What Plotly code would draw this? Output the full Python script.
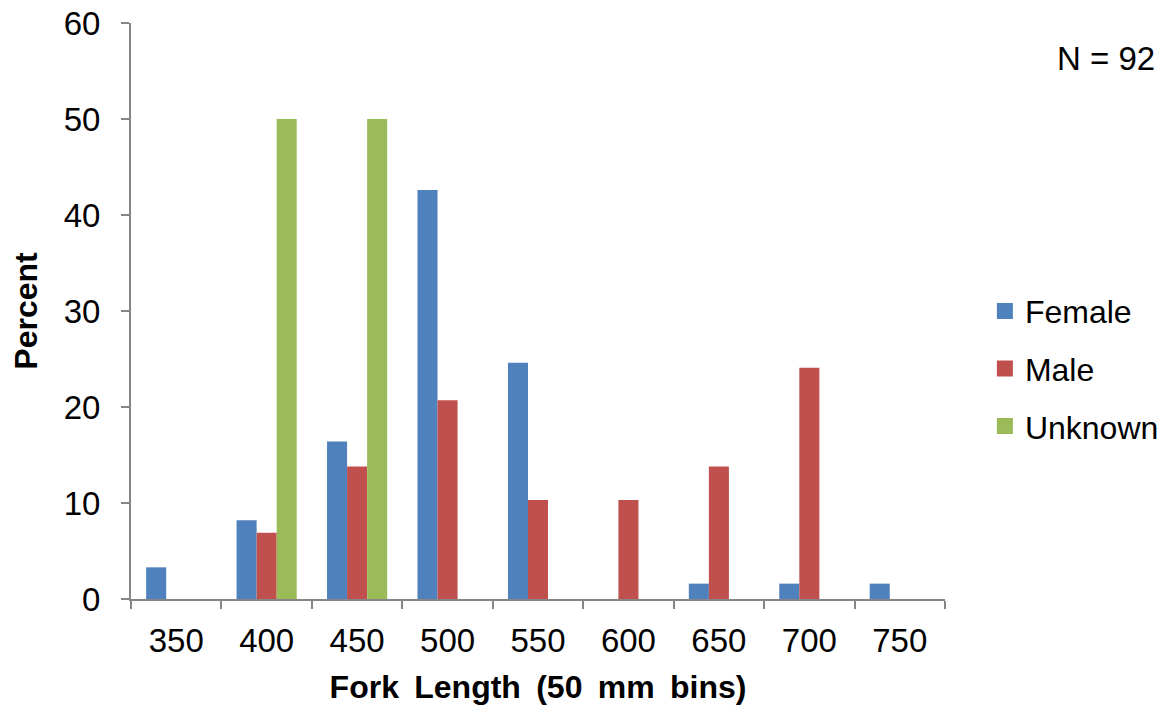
import plotly.graph_objects as go

categories = ["350", "400", "450", "500", "550", "600", "650", "700", "750"]
female = [3.3, 8.2, 16.4, 42.6, 24.6, 0, 1.6, 1.6, 1.6]
male = [0, 6.9, 13.8, 20.7, 10.3, 10.3, 13.8, 24.1, 0]
unknown = [0, 50, 50, 0, 0, 0, 0, 0, 0]

series = [("Female", female, "#4F81BD"), ("Male", male, "#C0504D"), ("Unknown", unknown, "#9BBB59")]

FONT = "Liberation Sans, Arial, sans-serif"
AXIS_COLOR = "#868686"
FS = 33

fig = go.Figure()
for name, vals, color in series:
    fig.add_trace(go.Bar(
        x=categories, y=vals, name=name, legendgroup=name, showlegend=False,
        marker=dict(color=color, line=dict(width=0)),
    ))
# legend entries with larger square swatches
for name, vals, color in series:
    fig.add_trace(go.Scatter(
        x=[None], y=[None], mode="markers", name=name, legendgroup=name,
        marker=dict(symbol="square", size=20, color=color),
    ))

fig.update_layout(
    width=1168, height=712,
    margin=dict(l=123, r=231, t=15, b=121, autoexpand=False),
    paper_bgcolor="white", plot_bgcolor="white",
    barmode="group", bargap=0.335, bargroupgap=0,
    font=dict(family=FONT, size=FS, color="black"),
    showlegend=True,
    legend=dict(
        x=1.049, y=0.40, xanchor="left", yanchor="middle",
        font=dict(family=FONT, size=32, color="black"),
        traceorder="grouped", tracegroupgap=13, itemsizing="trace",
        bgcolor="rgba(0,0,0,0)",
    ),
    annotations=[dict(
        text="N = 92", xref="paper", yref="paper",
        x=1.260, y=0.938, xanchor="right", yanchor="middle",
        showarrow=False, font=dict(family=FONT, size=FS, color="black"),
    )],
)

fig.update_xaxes(
    type="category", automargin=False,
    showline=True, linecolor=AXIS_COLOR, linewidth=2,
    ticks="outside", tickson="boundaries", ticklen=8, tickwidth=2, tickcolor=AXIS_COLOR,
    showgrid=False, zeroline=False,
    tickfont=dict(family=FONT, size=FS, color="black"),
    ticklabelstandoff=11, ticklabeloverflow="allow",
    title=dict(text="<b>Fork \u2009Length \u2009(50 \u2009mm \u2009bins)</b>",
               font=dict(family=FONT, size=32, color="black"), standoff=18),
)

fig.update_yaxes(
    range=[0, 60], dtick=10, automargin=False,
    showline=True, linecolor=AXIS_COLOR, linewidth=2,
    ticks="outside", ticklen=8, tickwidth=2, tickcolor=AXIS_COLOR,
    showgrid=False, zeroline=False,
    tickfont=dict(family=FONT, size=FS, color="black"),
    ticklabelstandoff=14, ticklabeloverflow="allow",
    title=dict(text="<b>Percent</b>", font=dict(family=FONT, size=32, color="black"), standoff=38),
)

fig.write_html("out.html")
